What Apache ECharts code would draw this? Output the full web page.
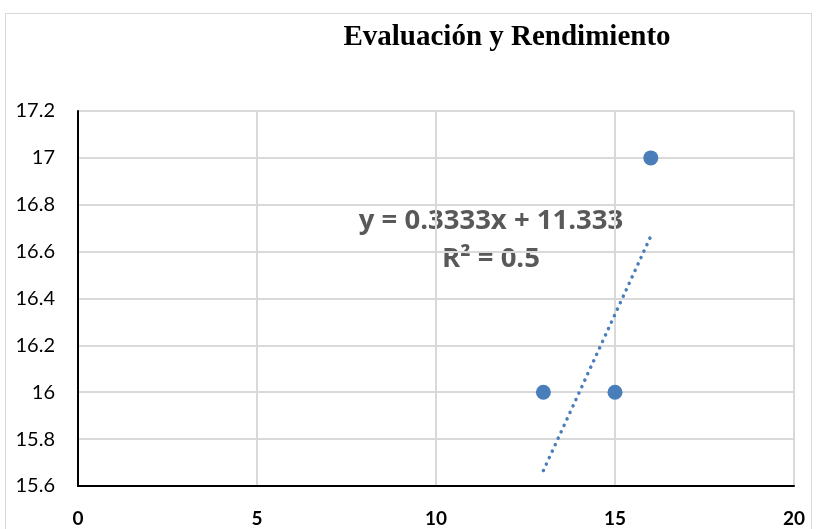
<!DOCTYPE html>
<html>
<head>
<meta charset="utf-8">
<script src="https://cdn.jsdelivr.net/npm/echarts@6/dist/echarts.min.js"></script>
<style>
html, body { margin: 0; padding: 0; background: #fff; }
#chart { width: 818px; height: 529px; }
#frame { position: absolute; left: 5px; top: 13px; width: 807px; height: 530px; border: 1px solid #d9d9d9; box-sizing: border-box; pointer-events: none; }
</style>
</head>
<body>
<div id="chart"></div>
<div id="frame"></div>
<script>
// datos: evaluación (x) y rendimiento (y)
var evaluacion = [13, 15, 16];
var rendimiento = [16, 16, 17];
var xTicks = [0, 5, 10, 15, 20];
var yTicks = [15.6, 15.8, 16, 16.2, 16.4, 16.6, 16.8, 17, 17.2];
// tendencia lineal tal como aparece en la etiqueta
var trendSlope = 0.3333;
var trendIntercept = 11.333;
var trendR2 = 0.5;

var xMin = Math.min.apply(null, evaluacion), xMax = Math.max.apply(null, evaluacion);
var trend = [[xMin, trendSlope * xMin + trendIntercept], [xMax, trendSlope * xMax + trendIntercept]];

var points = [];
for (var i = 0; i < evaluacion.length; i++) points.push([evaluacion[i], rendimiento[i]]);

var chart = echarts.init(document.getElementById('chart'));
var option = {
	animation: false,
	title: {
		text: 'Evaluación y Rendimiento',
		left: 502, top: 18, textAlign: 'center',
		textStyle: { fontFamily: 'Liberation Serif', fontWeight: 'bold', fontSize: 29, color: '#000' }
	},
	grid: { left: 78, top: 111, right: 24, bottom: 43 },
	xAxis: {
		type: 'value', min: xTicks[0], max: xTicks[xTicks.length - 1], interval: 5,
		axisLine: { lineStyle: { color: '#000', width: 2 } },
		axisTick: { show: false },
		splitLine: { lineStyle: { color: '#d9d9d9', width: 2 } },
		axisLabel: { fontFamily: 'Lato', fontWeight: 'bold', fontSize: 19, color: '#000', margin: 23 }
	},
	yAxis: {
		type: 'value', min: yTicks[0], max: yTicks[yTicks.length - 1], interval: 0.2,
		axisLine: { show: true, lineStyle: { color: '#000', width: 2 } },
		axisTick: { show: false },
		splitLine: { lineStyle: { color: '#d9d9d9', width: 2 } },
		axisLabel: {
			fontFamily: 'Lato', fontSize: 20, color: '#000', margin: 23,
			formatter: function (v) { return String(Math.round(v * 10) / 10); }
		}
	},
	series: [
		{
			type: 'line', data: trend, showSymbol: false, z: 1,
			lineStyle: { color: '#4a7ebb', width: 3.5, type: [0.1, 7], cap: 'round' }
		},
		{
			type: 'scatter', data: points, symbolSize: 15, z: 2,
			itemStyle: { color: '#4a7ebb', opacity: 1 }
		}
	],
	graphic: [
		{
			type: 'text', x: 491, y: 202,
			style: {
				text: 'y = ' + trendSlope + 'x + ' + trendIntercept + '\nR² = ' + trendR2,
				align: 'center',
				fontFamily: 'Open Sans', fontWeight: 'bold', fontSize: 27.5, lineHeight: 38, fill: '#595959'
			}
		}
	]
};
chart.setOption(option);
</script>
</body>
</html>
